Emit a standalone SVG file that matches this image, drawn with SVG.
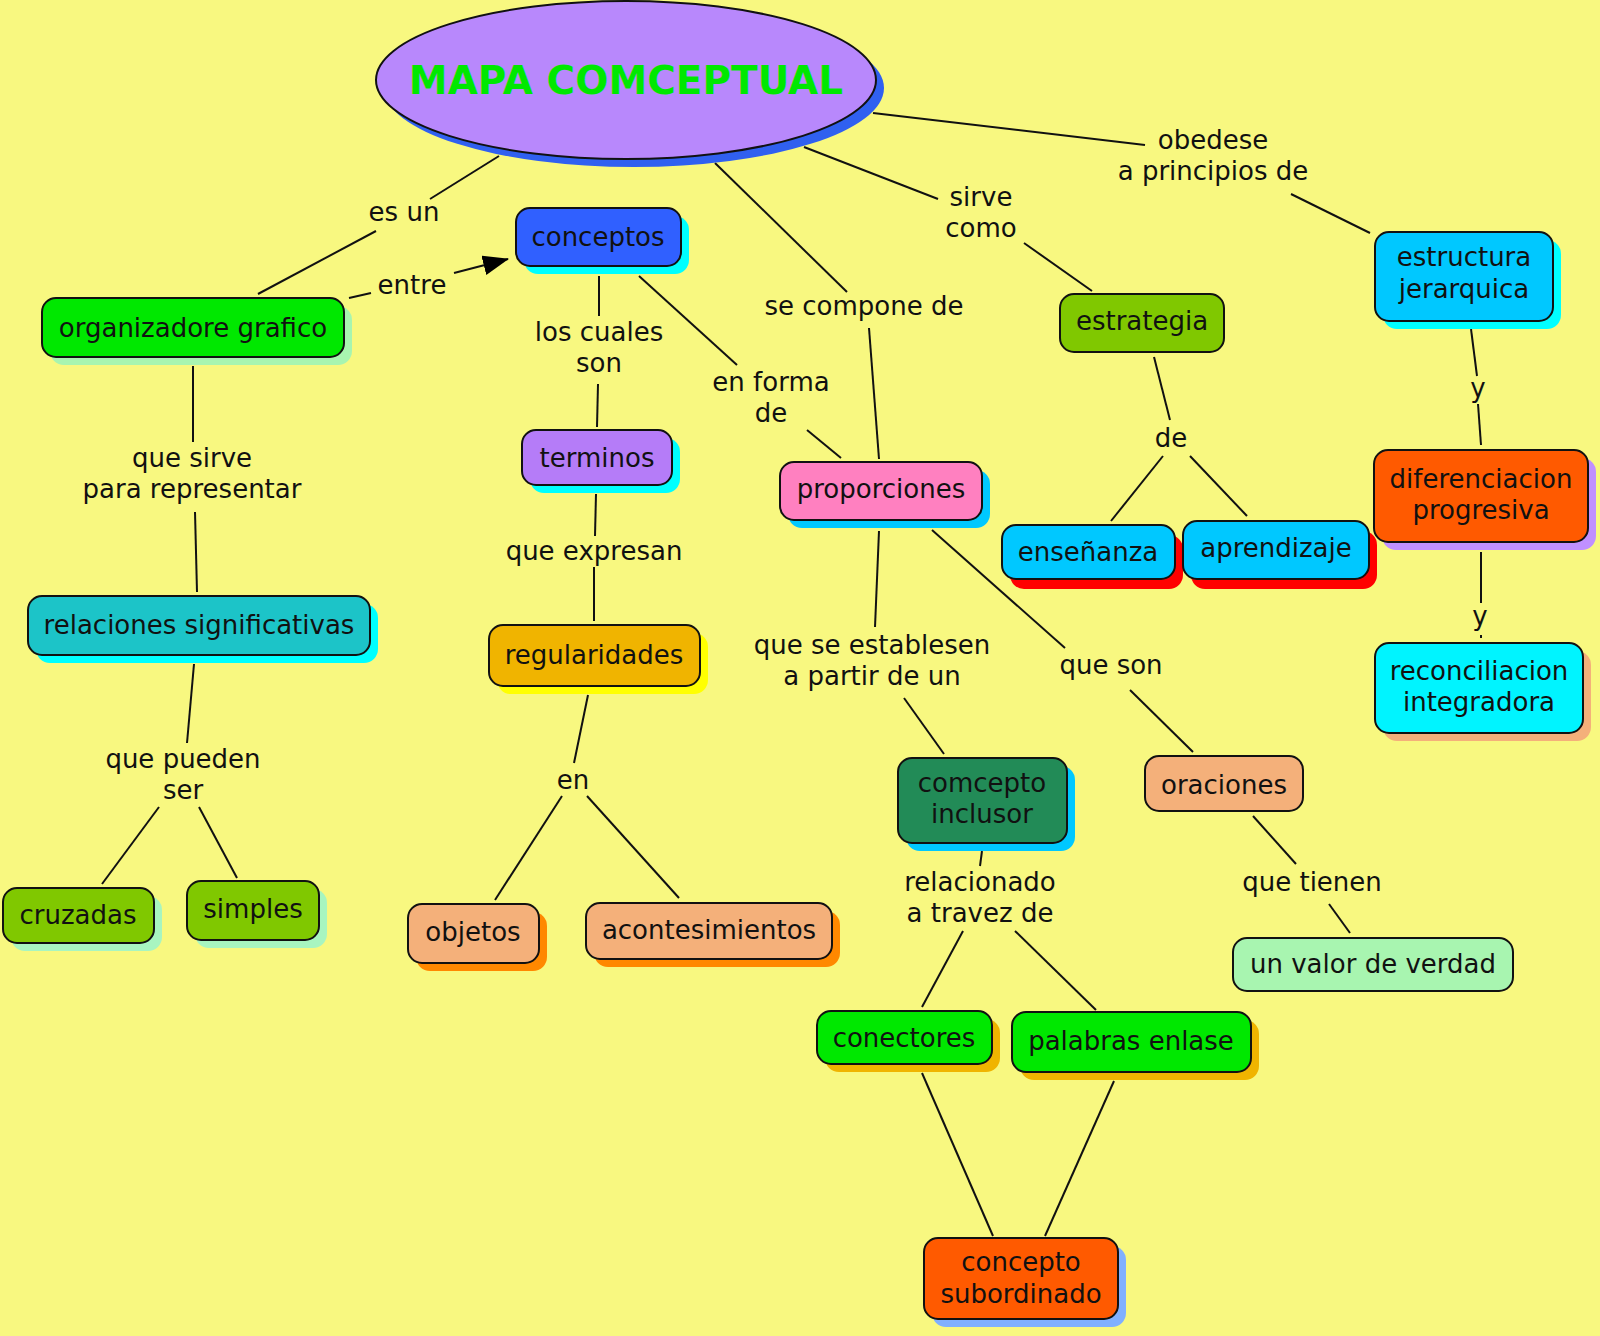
<svg xmlns="http://www.w3.org/2000/svg" width="1600" height="1336" viewBox="0 0 1600 1336">
<defs>
<style>
.n{stroke:#111;stroke-width:2}
.t{font-family:"DejaVu Sans",Verdana,sans-serif;font-size:26px;fill:#111;text-anchor:middle}
.l{font-family:"DejaVu Sans",Verdana,sans-serif;font-size:26px;fill:#111;text-anchor:middle}
.c line{stroke:#111;stroke-width:2}
</style>
<marker id="arr" markerUnits="userSpaceOnUse" markerWidth="26" markerHeight="20" viewBox="0 0 26 20" refX="25" refY="10" orient="auto">
<path d="M0,0 L26,10 L0,20 Z" fill="#000"/>
</marker>
</defs>
<rect width="1600" height="1336" fill="#f8f880"/>

<g class="c" id="connectors">
<line x1="499" y1="156" x2="430" y2="199"/>
<line x1="376" y1="231" x2="258" y2="294"/>
<line x1="349" y1="298" x2="371" y2="293"/>
<line x1="454" y1="273" x2="508" y2="259" marker-end="url(#arr)"/>
<line x1="599" y1="276" x2="599" y2="316"/>
<line x1="598" y1="384" x2="597" y2="427"/>
<line x1="639" y1="276" x2="737" y2="365"/>
<line x1="807" y1="430" x2="841" y2="458"/>
<line x1="715" y1="163" x2="847" y2="292"/>
<line x1="869" y1="328" x2="879" y2="459"/>
<line x1="804" y1="147" x2="938" y2="199"/>
<line x1="1024" y1="243" x2="1092" y2="291"/>
<line x1="873" y1="113" x2="1145" y2="145"/>
<line x1="1291" y1="194" x2="1370" y2="233"/>
<line x1="193" y1="366" x2="193" y2="442"/>
<line x1="195" y1="512" x2="197" y2="592"/>
<line x1="194" y1="664" x2="187" y2="743"/>
<line x1="159" y1="807" x2="102" y2="884"/>
<line x1="199" y1="807" x2="237" y2="878"/>
<line x1="596" y1="494" x2="595" y2="536"/>
<line x1="594" y1="567" x2="594" y2="621"/>
<line x1="588" y1="695" x2="574" y2="763"/>
<line x1="562" y1="796" x2="495" y2="900"/>
<line x1="587" y1="796" x2="679" y2="898"/>
<line x1="1154" y1="357" x2="1170" y2="420"/>
<line x1="1163" y1="456" x2="1111" y2="521"/>
<line x1="1190" y1="456" x2="1247" y2="516"/>
<line x1="879" y1="531" x2="875" y2="627"/>
<line x1="904" y1="698" x2="944" y2="754"/>
<line x1="932" y1="530" x2="1065" y2="648"/>
<line x1="1130" y1="690" x2="1193" y2="752"/>
<line x1="982" y1="851" x2="980" y2="866"/>
<line x1="963" y1="931" x2="922" y2="1007"/>
<line x1="1015" y1="931" x2="1096" y2="1010"/>
<line x1="922" y1="1073" x2="993" y2="1236"/>
<line x1="1114" y1="1081" x2="1045" y2="1236"/>
<line x1="1253" y1="816" x2="1296" y2="864"/>
<line x1="1329" y1="904" x2="1350" y2="933"/>
<line x1="1471" y1="329" x2="1477" y2="376"/>
<line x1="1478" y1="404" x2="1481" y2="445"/>
<line x1="1481" y1="552" x2="1481" y2="603"/>
<line x1="1481" y1="635" x2="1481" y2="638"/>
</g>

<g id="labels">
<text class="l" x="404" y="221">es un</text>
<text class="l" x="412" y="294">entre</text>
<text class="l" x="599" y="341">los cuales</text>
<text class="l" x="599" y="372">son</text>
<text class="l" x="771" y="391">en forma</text>
<text class="l" x="771" y="422">de</text>
<text class="l" x="864" y="315">se compone de</text>
<text class="l" x="981" y="206">sirve</text>
<text class="l" x="981" y="237">como</text>
<text class="l" x="1213" y="149">obedese</text>
<text class="l" x="1213" y="180">a principios de</text>
<text class="l" x="192" y="467">que sirve</text>
<text class="l" x="192" y="498">para representar</text>
<text class="l" x="594" y="560">que expresan</text>
<text class="l" x="183" y="768">que pueden</text>
<text class="l" x="183" y="799">ser</text>
<text class="l" x="573" y="789">en</text>
<text class="l" x="1171" y="447">de</text>
<text class="l" x="1478" y="397">y</text>
<text class="l" x="1480" y="625">y</text>
<text class="l" x="872" y="654">que se establesen</text>
<text class="l" x="872" y="685">a partir de un</text>
<text class="l" x="1111" y="674">que son</text>
<text class="l" x="980" y="891">relacionado</text>
<text class="l" x="980" y="922">a travez de</text>
<text class="l" x="1312" y="891">que tienen</text>
</g>

<g id="mapa">
<ellipse cx="634" cy="88" rx="250" ry="79" fill="#3060f0"/>
<ellipse cx="626" cy="80" rx="250" ry="79" fill="#b888fc" class="n"/>
<text x="626" y="94" font-family="'DejaVu Sans',Verdana,sans-serif" font-size="39" font-weight="bold" fill="#00e800" text-anchor="middle">MAPA COMCEPTUAL</text>
</g>

<g id="organizadore">
<rect x="50" y="306" width="302" height="59" rx="14" fill="#a8f5b0"/>
<rect x="42" y="298" width="302" height="59" rx="14" fill="#00e800" class="n"/>
<text class="t" x="193" y="337">organizadore grafico</text>
</g>
<g id="conceptos">
<rect x="524" y="216" width="165" height="58" rx="14" fill="#00ffff"/>
<rect x="516" y="208" width="165" height="58" rx="14" fill="#3060ff" class="n"/>
<text class="t" x="598" y="246">conceptos</text>
</g>
<g id="terminos">
<rect x="530" y="438" width="150" height="55" rx="14" fill="#00ffff"/>
<rect x="522" y="430" width="150" height="55" rx="14" fill="#b57cf8" class="n"/>
<text class="t" x="597" y="467">terminos</text>
</g>
<g id="relaciones">
<rect x="36" y="604" width="342" height="59" rx="14" fill="#00ffff"/>
<rect x="28" y="596" width="342" height="59" rx="14" fill="#1cc4c8" class="n"/>
<text class="t" x="199" y="634">relaciones significativas</text>
</g>
<g id="regularidades">
<rect x="497" y="633" width="211" height="61" rx="14" fill="#ffff00"/>
<rect x="489" y="625" width="211" height="61" rx="14" fill="#f0b400" class="n"/>
<text class="t" x="594" y="664">regularidades</text>
</g>
<g id="cruzadas">
<rect x="11" y="896" width="151" height="55" rx="14" fill="#a8f5c0"/>
<rect x="3" y="888" width="151" height="55" rx="14" fill="#80c800" class="n"/>
<text class="t" x="78" y="924">cruzadas</text>
</g>
<g id="simples">
<rect x="195" y="889" width="132" height="59" rx="14" fill="#a8f5c0"/>
<rect x="187" y="881" width="132" height="59" rx="14" fill="#80c800" class="n"/>
<text class="t" x="253" y="918">simples</text>
</g>
<g id="objetos">
<rect x="416" y="912" width="131" height="59" rx="14" fill="#ff8800"/>
<rect x="408" y="904" width="131" height="59" rx="14" fill="#f4b07a" class="n"/>
<text class="t" x="473" y="941">objetos</text>
</g>
<g id="acontesimientos">
<rect x="594" y="911" width="246" height="56" rx="14" fill="#ff8800"/>
<rect x="586" y="903" width="246" height="56" rx="14" fill="#f4b07a" class="n"/>
<text class="t" x="709" y="939">acontesimientos</text>
</g>
<g id="proporciones">
<rect x="788" y="470" width="202" height="58" rx="14" fill="#00c8ff"/>
<rect x="780" y="462" width="202" height="58" rx="14" fill="#ff80c0" class="n"/>
<text class="t" x="881" y="498">proporciones</text>
</g>
<g id="estrategia">
<rect x="1060" y="294" width="164" height="58" rx="14" fill="#80c800" class="n"/>
<text class="t" x="1142" y="330">estrategia</text>
</g>
<g id="ensenanza">
<rect x="1010" y="535" width="173" height="54" rx="14" fill="#ff0000"/>
<rect x="1002" y="525" width="173" height="54" rx="14" fill="#00c8ff" class="n"/>
<text class="t" x="1088" y="561">enseñanza</text>
</g>
<g id="aprendizaje">
<rect x="1191" y="531" width="186" height="58" rx="14" fill="#ff0000"/>
<rect x="1183" y="521" width="186" height="58" rx="14" fill="#00c8ff" class="n"/>
<text class="t" x="1276" y="557">aprendizaje</text>
</g>
<g id="estructura">
<rect x="1383" y="240" width="178" height="89" rx="14" fill="#00ffff"/>
<rect x="1375" y="232" width="178" height="89" rx="14" fill="#00c8ff" class="n"/>
<text class="t" x="1464" y="266">estructura</text>
<text class="t" x="1464" y="298">jerarquica</text>
</g>
<g id="diferenciacion">
<rect x="1382" y="458" width="214" height="92" rx="14" fill="#c090ff"/>
<rect x="1374" y="450" width="214" height="92" rx="14" fill="#ff5a00" class="n"/>
<text class="t" x="1481" y="488">diferenciacion</text>
<text class="t" x="1481" y="519">progresiva</text>
</g>
<g id="reconciliacion">
<rect x="1383" y="651" width="208" height="90" rx="14" fill="#f4b07a"/>
<rect x="1375" y="643" width="208" height="90" rx="14" fill="#00f4ff" class="n"/>
<text class="t" x="1479" y="680">reconciliacion</text>
<text class="t" x="1479" y="711">integradora</text>
</g>
<g id="inclusor">
<rect x="906" y="766" width="169" height="85" rx="14" fill="#00c8ff"/>
<rect x="898" y="758" width="169" height="85" rx="14" fill="#228b57" class="n"/>
<text class="t" x="982" y="792">comcepto</text>
<text class="t" x="982" y="823">inclusor</text>
</g>
<g id="oraciones">
<rect x="1145" y="756" width="158" height="55" rx="14" fill="#f4b07a" class="n"/>
<text class="t" x="1224" y="794">oraciones</text>
</g>
<g id="valor">
<rect x="1233" y="938" width="280" height="53" rx="14" fill="#a8f5b0" class="n"/>
<text class="t" x="1373" y="973">un valor de verdad</text>
</g>
<g id="conectores">
<rect x="825" y="1019" width="175" height="53" rx="14" fill="#f0b400"/>
<rect x="817" y="1011" width="175" height="53" rx="14" fill="#00e800" class="n"/>
<text class="t" x="904" y="1047">conectores</text>
</g>
<g id="palabras">
<rect x="1020" y="1020" width="239" height="60" rx="14" fill="#f0b400"/>
<rect x="1012" y="1012" width="239" height="60" rx="14" fill="#00e800" class="n"/>
<text class="t" x="1131" y="1050">palabras enlase</text>
</g>
<g id="subordinado">
<rect x="932" y="1246" width="194" height="81" rx="14" fill="#80b0ff"/>
<rect x="924" y="1238" width="194" height="81" rx="14" fill="#ff5a00" class="n"/>
<text class="t" x="1021" y="1271">concepto</text>
<text class="t" x="1021" y="1303">subordinado</text>
</g>
</svg>
